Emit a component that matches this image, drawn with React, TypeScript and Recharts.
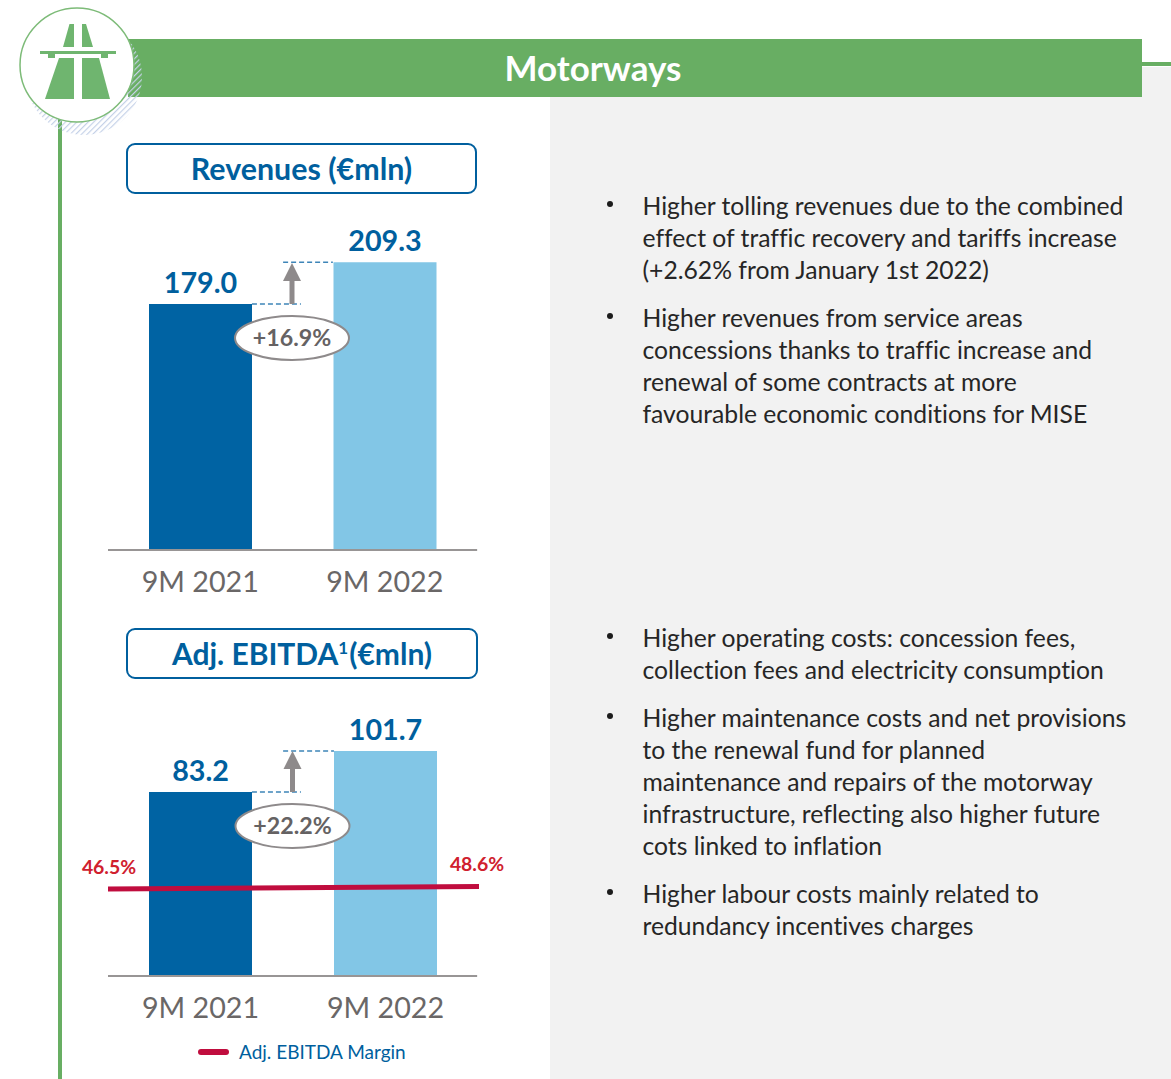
import React from 'react';
import { ComposedChart, Bar, Line, Cell, XAxis, YAxis, LabelList, ReferenceLine } from 'recharts';

const periods = ['9M 2021', '9M 2022'];
const revenues = [179.0, 209.3];
const ebitda = [83.2, 101.7];
const marginValues = [46.5, 48.6];
const marginPositions = [0, 1];
const barColors = ['#0063A3', '#82C6E6'];

const bulletsTop = [
  ['Higher tolling revenues due to the combined', 'effect of traffic recovery and tariffs increase', '(+2.62% from January 1st 2022)'],
  ['Higher revenues from service areas', 'concessions thanks to traffic increase and', 'renewal of some contracts at more', 'favourable economic conditions for MISE'],
];
const bulletsBottom = [
  ['Higher operating costs: concession fees,', 'collection fees and electricity consumption'],
  ['Higher maintenance costs and net provisions', 'to the renewal fund for planned', 'maintenance and repairs of the motorway', 'infrastructure, reflecting also higher future', 'cots linked to inflation'],
  ['Higher labour costs mainly related to', 'redundancy incentives charges'],
];

const GREEN = '#68AE63';
const BLUE = '#005F9E';
const FONT = 'Lato, sans-serif';

interface ChartProps {
  top: number;
  height: number;
  values: number[];
  yMax: number;
  padRight: number;
  dashA: [number, number];
  dashB: [number, number];
  margins?: number[];
}

// margin labels sit slightly inside the line ends
function marginLabel(p: any) {
  return (
    <text
      x={p.x + (p.index === 0 ? 1 : -2)}
      y={p.y - 15}
      textAnchor="middle"
      fill="#D0202E"
      fontSize={19.4}
      fontWeight={700}
      fontFamily={FONT}
    >
      {Number(p.value).toFixed(1)}%
    </text>
  );
}

function BarPanel({ top, height, values, yMax, padRight, dashA, dashB, margins }: ChartProps) {
  const rows = periods.map((period, i) => ({ period, value: values[i] }));
  const marginRows = marginPositions.map((pos, i) => ({ pos, margin: margins ? margins[i] : undefined }));
  return (
    <div style={{ position: 'absolute', left: 68, top, fontVariantLigatures: 'none' }}>
      <ComposedChart data={rows} width={451} height={height} margin={{ top: 0, right: 40, bottom: 0, left: 40 }}>
        <XAxis
          xAxisId="cat"
          dataKey="period"
          type="category"
          height={50}
          padding={{ left: 0, right: padRight }}
          axisLine={false}
          tickLine={false}
          tickMargin={16}
          tick={{ fill: '#6A6767', fontSize: 28.7, fontFamily: FONT }}
        />
        <XAxis xAxisId="pos" type="number" dataKey="pos" domain={[0, 1]} hide />
        <YAxis yAxisId="bar" domain={[0, yMax]} hide />
        <YAxis yAxisId="pct" domain={[-26, -26 + (height - 50) / 1.2]} hide />
        <Bar xAxisId="cat" yAxisId="bar" dataKey="value" barSize={103} isAnimationActive={false}>
          {rows.map((row, i) => (
            <Cell key={row.period} fill={barColors[i]} />
          ))}
          <LabelList
            dataKey="value"
            position="top"
            offset={11}
            formatter={(v: number) => v.toFixed(1)}
            style={{ fill: BLUE, fontSize: 28.7, fontWeight: 700, fontFamily: FONT }}
          />
        </Bar>
        <ReferenceLine
          xAxisId="pos"
          yAxisId="bar"
          segment={[{ x: 0, y: 0 }, { x: 0.995, y: 0 }]}
          stroke="#989595"
          strokeWidth={2}
        />
        <ReferenceLine
          xAxisId="pos"
          yAxisId="bar"
          segment={[{ x: dashA[0], y: values[0] }, { x: dashA[1], y: values[0] }]}
          stroke="#3E85B8"
          strokeWidth={1.5}
          strokeDasharray="5 3"
        />
        <ReferenceLine
          xAxisId="pos"
          yAxisId="bar"
          segment={[{ x: dashB[0], y: values[1] }, { x: dashB[1], y: values[1] }]}
          stroke="#3E85B8"
          strokeWidth={1.5}
          strokeDasharray="5 3"
        />
        <Line
          xAxisId="pos"
          yAxisId="pct"
          data={marginRows}
          dataKey="margin"
          stroke={margins ? '#C00D3E' : 'none'}
          strokeWidth={5}
          dot={false}
          isAnimationActive={false}
        >
          {margins && <LabelList dataKey="margin" content={marginLabel} />}
        </Line>
      </ComposedChart>
    </div>
  );
}

function Growth({ cx, cy, base, tip, text }: { cx: number; cy: number; base: number; tip: number; text: string }) {
  return (
    <g>
      <rect x={cx - 2.5} y={tip + 16} width={5} height={base - tip - 16} fill="#8E8A8B" />
      <polygon points={`${cx},${tip} ${cx + 9},${tip + 18} ${cx - 9},${tip + 18}`} fill="#8E8A8B" />
      <ellipse cx={cx} cy={cy} rx={57} ry={22} fill="#fff" stroke="#8E8A8B" strokeWidth={2} />
      <text x={cx} y={cy + 8} textAnchor="middle" fontFamily={FONT} fontSize={23.2} fontWeight={700} fill="#656263">
        {text}
      </text>
    </g>
  );
}

function TitleBox({ left, top, width, height, size, children }: { left: number; top: number; width: number; height: number; size: number; children: React.ReactNode }) {
  return (
    <div
      style={{
        position: 'absolute', left, top, width, height, boxSizing: 'border-box',
        border: `2px solid ${BLUE}`, borderRadius: 9, textAlign: 'center',
        lineHeight: `${height - 4}px`, color: BLUE, fontSize: size, fontWeight: 700, fontFamily: FONT,
        background: '#fff',
      }}
    >
      {children}
    </div>
  );
}

function BulletBlock({ top, lines }: { top: number; lines: string[] }) {
  return (
    <div style={{ position: 'absolute', left: 0, top }}>
      <div style={{ position: 'absolute', left: 607, top: 11, width: 6, height: 6, borderRadius: 3, background: '#1c1c1c' }} />
      {lines.map((line, i) => (
        <div
          key={line}
          style={{
            position: 'absolute', left: 642.5, top: i * 32, lineHeight: '32px', whiteSpace: 'nowrap',
            fontSize: 24.7, color: '#262626', fontFamily: FONT,
          }}
        >
          {line}
        </div>
      ))}
    </div>
  );
}

export default function App() {
  return (
    <div style={{ position: 'absolute', left: 0, top: 0, width: 1171, height: 1079, overflow: 'hidden', background: '#fff', fontFamily: FONT, fontVariantLigatures: 'none' }}>
      <div style={{ position: 'absolute', left: 550, top: 97, width: 621, height: 982, background: '#F2F2F2' }} />
      <div style={{ position: 'absolute', left: 1142, top: 67, width: 29, height: 30, background: '#F2F2F2' }} />
      <div style={{ position: 'absolute', left: 1142, top: 62, width: 29, height: 4, background: GREEN }} />
      <div style={{ position: 'absolute', left: 128, top: 39, width: 1014, height: 58, background: GREEN }} />
      <div style={{ position: 'absolute', left: 128, top: 37.5, width: 930, height: 58, lineHeight: '58px', textAlign: 'center', color: '#fff', fontSize: 35, fontWeight: 700 }}>
        Motorways
      </div>
      <div style={{ position: 'absolute', left: 58, top: 118, width: 4, height: 961, background: GREEN }} />

      <svg width={150} height={140} style={{ position: 'absolute', left: 0, top: 0 }}>
        <defs>
          <pattern id="hatch" width="4" height="4" patternUnits="userSpaceOnUse" patternTransform="rotate(45)">
            <rect width="1.2" height="4" fill="#C5D2E8" />
          </pattern>
        </defs>
        <circle cx={84} cy={77} r={58} fill="url(#hatch)" />
        <circle cx={77} cy={65} r={57} fill="#fff" stroke="#7DBB78" strokeWidth={1.5} />
        <g fill="#6FB56F">
          <polygon points="63,47 69.5,24 74,24 74,47" />
          <polygon points="82,24 86,24 93,47 82,47" />
          <polygon points="40,51 116,51 116,54 108,54 108,58 101,58 101,54 55,54 55,58 48,58 48,54 40,54" />
          <polygon points="59,58 74,58 74,99 45,99" />
          <polygon points="82,58 99,58 110,99 82,99" />
        </g>
      </svg>

      <TitleBox left={126} top={143} width={351} height={51} size={30.4}>Revenues (€mln)</TitleBox>
      <TitleBox left={126} top={628} width={352} height={51} size={30}>
        Adj. EBITDA<sup style={{ fontSize: 17, lineHeight: 0, marginRight: 1 }}>1</sup>(€mln)
      </TitleBox>

      <BarPanel top={200} height={400} values={revenues} yMax={254.6} padRight={2} dashA={[0.388, 0.52]} dashB={[0.472, 0.606]} />
      <BarPanel top={700} height={326} values={ebitda} yMax={124.8} padRight={1} dashA={[0.388, 0.52]} dashB={[0.472, 0.609]} margins={marginValues} />

      <svg width={1171} height={1079} style={{ position: 'absolute', left: 0, top: 0, pointerEvents: 'none' }}>
        <Growth cx={292} cy={338} base={304} tip={263} text="+16.9%" />
        <Growth cx={292.5} cy={826} base={792} tip={751} text="+22.2%" />
      </svg>

      <div style={{ position: 'absolute', left: 198, top: 1049, width: 31, height: 6, borderRadius: 3, background: '#C00D3E' }} />
      <div style={{ position: 'absolute', left: 239, top: 1039, lineHeight: '26px', fontSize: 19, color: BLUE, whiteSpace: 'nowrap' }}>
        Adj. EBITDA Margin
      </div>

      <BulletBlock top={190} lines={bulletsTop[0]} />
      <BulletBlock top={302} lines={bulletsTop[1]} />
      <BulletBlock top={622} lines={bulletsBottom[0]} />
      <BulletBlock top={702} lines={bulletsBottom[1]} />
      <BulletBlock top={878} lines={bulletsBottom[2]} />
    </div>
  );
}
